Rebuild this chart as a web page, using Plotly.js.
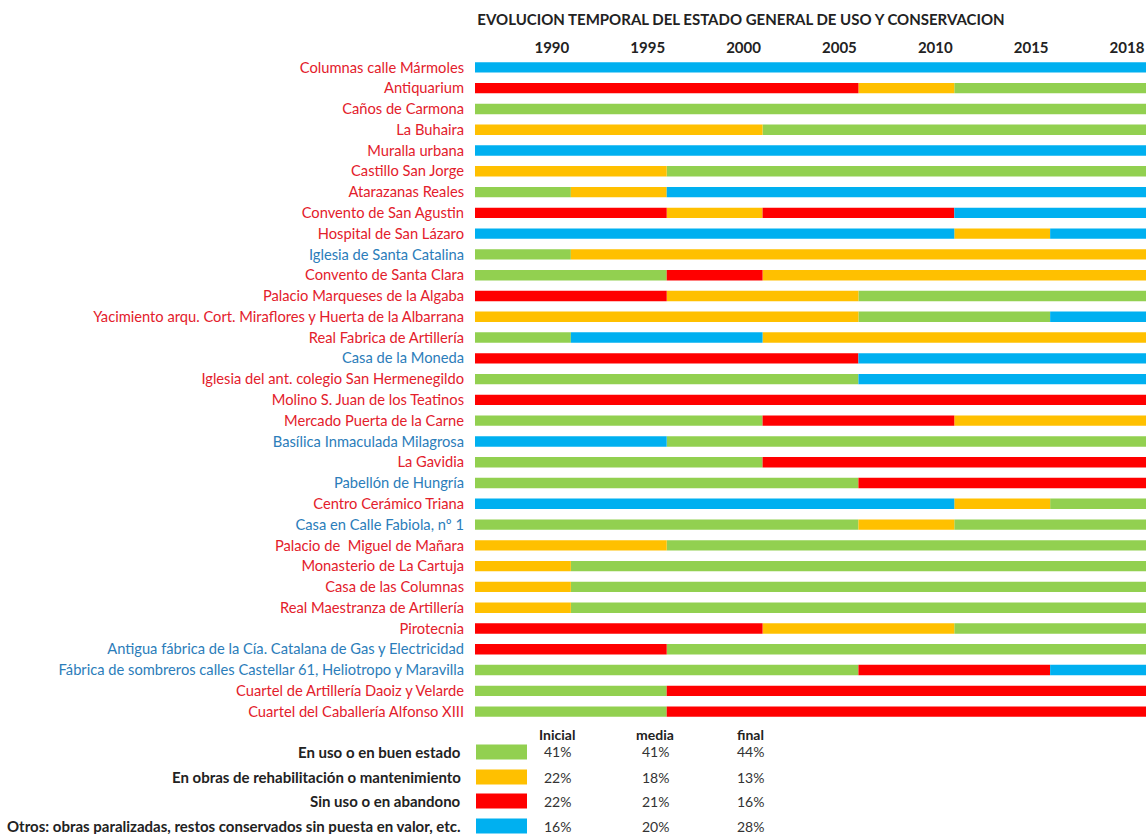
<!DOCTYPE html>
<html><head><meta charset="utf-8">
<script src="https://cdn.plot.ly/plotly-3.0.1.min.js"></script>
<style>html,body{margin:0;padding:0;background:#fff}#chart{width:1146px;height:834px}</style>
</head><body><div id="chart"></div>
<script>
// ---- DATA ----
const sites = [
  'Columnas calle Mármoles',
  'Antiquarium',
  'Caños de Carmona',
  'La Buhaira',
  'Muralla urbana',
  'Castillo San Jorge',
  'Atarazanas Reales',
  'Convento de San Agustin',
  'Hospital de San Lázaro',
  'Iglesia de Santa Catalina',
  'Convento de Santa Clara',
  'Palacio Marqueses de la Algaba',
  'Yacimiento arqu. Cort. Miraflores y Huerta de la Albarrana',
  'Real Fabrica de Artillería',
  'Casa de la Moneda',
  'Iglesia del ant. colegio San Hermenegildo',
  'Molino S. Juan de los Teatinos',
  'Mercado Puerta de la Carne',
  'Basílica Inmaculada Milagrosa',
  'La Gavidia',
  'Pabellón de Hungría',
  'Centro Cerámico Triana',
  'Casa en Calle Fabiola, nº 1',
  'Palacio de  Miguel de Mañara',
  'Monasterio de La Cartuja',
  'Casa de las Columnas',
  'Real Maestranza de Artillería',
  'Pirotecnia',
  'Antigua fábrica de la Cía. Catalana de Gas y Electricidad',
  'Fábrica de sombreros calles Castellar 61, Heliotropo y Maravilla',
  'Cuartel de Artillería Daoiz y Velarde',
  'Cuartel del Caballería Alfonso XIII'
];
// label colour group: 'r' red, 'b' blue
const labelGroup = ['r','r','r','r','r','r','r','r','r','b','r','r','r','r','b','r',
                    'r','r','b','r','b','r','b','r','r','r','r','r','b','b','r','r'];
// state per 5-year period (G: en uso, Y: obras, R: sin uso, B: otros)
const periodStarts = [1985, 1990, 1995, 2000, 2005, 2010, 2015];
const periodEnd = 2020;
const states = [
  'BBBBBBB', // Columnas calle Mármoles
  'RRRRYGG', // Antiquarium
  'GGGGGGG', // Caños de Carmona
  'YYYGGGG', // La Buhaira
  'BBBBBBB', // Muralla urbana
  'YYGGGGG', // Castillo San Jorge
  'GYBBBBB', // Atarazanas Reales
  'RRYRRBB', // Convento de San Agustin
  'BBBBBYB', // Hospital de San Lázaro
  'GYYYYYY', // Iglesia de Santa Catalina
  'GGRYYYY', // Convento de Santa Clara
  'RRYYGGG', // Palacio Marqueses de la Algaba
  'YYYYGGB', // Yacimiento ...
  'GBBYYYY', // Real Fabrica de Artillería
  'RRRRBBB', // Casa de la Moneda
  'GGGGBBB', // Iglesia del ant. colegio San Hermenegildo
  'RRRRRRR', // Molino S. Juan de los Teatinos
  'GGGRRYY', // Mercado Puerta de la Carne
  'BBGGGGG', // Basílica Inmaculada Milagrosa
  'GGGRRRR', // La Gavidia
  'GGGGRRR', // Pabellón de Hungría
  'BBBBBYG', // Centro Cerámico Triana
  'GGGGYGG', // Casa en Calle Fabiola
  'YYGGGGG', // Palacio de Miguel de Mañara
  'YGGGGGG', // Monasterio de La Cartuja
  'YGGGGGG', // Casa de las Columnas
  'YGGGGGG', // Real Maestranza de Artillería
  'RRRYYGG', // Pirotecnia
  'RRGGGGG', // Antigua fábrica ...
  'GGGGRRB', // Fábrica de sombreros ...
  'GGRRRRR', // Cuartel de Artillería Daoiz y Velarde
  'GGRRRRR'  // Cuartel del Caballería Alfonso XIII
];
const tickYears = [1990, 1995, 2000, 2005, 2010, 2015, 2020];
const tickLabels = ['1990', '1995', '2000', '2005', '2010', '2015', '2018'];
const stateKeys = ['G', 'Y', 'R', 'B'];
const stateNames = [
  'En uso o en buen estado',
  'En obras de rehabilitación o mantenimiento',
  'Sin uso o en abandono',
  'Otros: obras paralizadas, restos conservados sin puesta en valor, etc.'
];
const pctInicial = [41, 22, 22, 16];
const pctMedia = [41, 18, 21, 20];
const pctFinal = [44, 13, 16, 28];
const colHeaders = ['Inicial', 'media', 'final'];

// ---- STYLE ----
const stateColors = {G: '#92D050', Y: '#FFC000', R: '#FF0000', B: '#00B0F0'};
const labelColors = {r: '#E3202B', b: '#2B7DBA'};
const FONT = 'Lato, "Open Sans", "DejaVu Sans", sans-serif';
const W = 1146, H = 834;
const M = {l: 475, r: 0, t: 57, b: 112};
const px = x => (x - M.l) / (W - M.l - M.r);
const py = y => (H - M.b - y) / (H - M.t - M.b);

// ---- build segments ----
const seg = {};
stateKeys.forEach(k => seg[k] = {y: [], base: [], x: [], text: []});
states.forEach((row, i) => {
  let j = 0;
  while (j < row.length) {
    let k = j;
    while (k + 1 < row.length && row[k + 1] === row[j]) k++;
    const s = periodStarts[j];
    const e = (k + 1 < periodStarts.length) ? periodStarts[k + 1] : periodEnd;
    const st = row[j];
    seg[st].y.push(i);
    seg[st].base.push(s);
    seg[st].x.push(e - s);
    seg[st].text.push(sites[i]);
    j = k + 1;
  }
});

const traces = stateKeys.map((k, si) => ({
  type: 'bar', orientation: 'h',
  y: seg[k].y, base: seg[k].base, x: seg[k].x,
  customdata: seg[k].text,
  name: stateNames[si],
  marker: {color: stateColors[k], line: {width: 0}},
  width: 0.5,
  hovertemplate: '%{customdata}<br>%{base} – %{x}<extra>' + stateNames[si] + '</extra>'
}));

// ---- legend table ----
const annotations = [];
const shapes = [];
const rowY = [752, 777, 801, 826];
const colX = [557, 655, 750];
colHeaders.forEach((h, c) => annotations.push({
  xref: 'paper', yref: 'paper', x: px(colX[c]), y: py(734),
  text: '<b>' + h + '</b>', showarrow: false, xanchor: 'center', yanchor: 'middle',
  font: {family: FONT, size: 14, color: '#222'}
}));
stateKeys.forEach((k, r) => {
  annotations.push({
    xref: 'paper', yref: 'paper', x: px(463), y: py(rowY[r]),
    text: '<b>' + stateNames[r] + '</b>', showarrow: false, xanchor: 'right', yanchor: 'middle',
    font: {family: FONT, size: 15, color: '#222'}
  });
  shapes.push({
    type: 'rect', xref: 'paper', yref: 'paper',
    x0: px(476), x1: px(527), y0: py(rowY[r] + 7.5), y1: py(rowY[r] - 7.5),
    fillcolor: stateColors[k], line: {width: 0}
  });
  [pctInicial, pctMedia, pctFinal].forEach((arr, c) => annotations.push({
    xref: 'paper', yref: 'paper', x: px(colX[c]), y: py(rowY[r]),
    text: arr[r] + '%', showarrow: false, xanchor: 'center', yanchor: 'middle',
    font: {family: FONT, size: 14, color: '#333'}
  }));
});

const layout = {
  width: W, height: H,
  margin: M,
  paper_bgcolor: '#fff', plot_bgcolor: '#fff',
  barmode: 'overlay',
  showlegend: false,
  font: {family: FONT, size: 14, color: '#222'},
  title: {
    text: '<b>EVOLUCION TEMPORAL DEL ESTADO GENERAL DE USO Y CONSERVACION</b>',
    xref: 'container', yref: 'container', x: 741 / W, y: 1 - 20 / H,
    xanchor: 'center', yanchor: 'middle',
    font: {family: FONT, size: 15, color: '#222'}
  },
  xaxis: {
    range: [periodStarts[0], periodEnd], side: 'top',
    tickvals: tickYears, ticktext: tickLabels.map(t => '<b>' + t + '</b>'),
    ticklabelshift: -19, ticklabelstandoff: 0, ticks: '', showgrid: false, zeroline: false, showline: false,
    tickfont: {family: FONT, size: 15, color: '#222'}, fixedrange: true
  },
  yaxis: {
    range: [sites.length - 0.5, -0.5],
    tickvals: sites.map((s, i) => i),
    ticktext: sites.map((s, i) => '<span style="color:' + labelColors[labelGroup[i]] + '">' + s + '</span>'),
    ticks: '', ticklabelstandoff: 10, showgrid: false, zeroline: false, showline: false,
    tickfont: {family: FONT, size: 14.7}, fixedrange: true
  },
  annotations: annotations,
  shapes: shapes
};

Plotly.newPlot('chart', traces, layout, {displayModeBar: false});
</script>
</body></html>
